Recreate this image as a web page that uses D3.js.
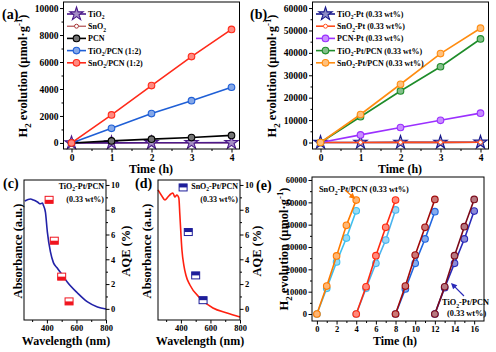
<!DOCTYPE html>
<html>
<head>
<meta charset="utf-8">
<script src="https://cdn.jsdelivr.net/npm/d3@7"></script>
<style>
  body { margin: 0; background: #fff; }
  svg { display: block; }
</style>
</head>
<body>
<svg width="496" height="352"></svg>
<script>
// ---------- data ----------
const timeH = [0, 1, 2, 3, 4];

// (a) H2 evolution, umol/g
const tio2A = [0, 5, 10, 15, 20];
const sno2A = [0, 3, 6, 8, 10];
const pcnA = [0, 150, 280, 400, 560];
const tio2PcnA = [0, 1080, 2180, 3130, 4130];
const sno2PcnA = [0, 2080, 4250, 6400, 8420];

// (b) H2 evolution with Pt, umol/g
const tio2PtB = [0, 20, 40, 60, 80];
const sno2PtB = [0, 30, 50, 70, 90];
const pcnPtB = [0, 3400, 6700, 9900, 13100];
const tio2PtPcnB = [0, 11500, 23000, 33800, 46200];
const sno2PtPcnB = [0, 12500, 26000, 39700, 51000];

// (c) absorbance (a.u.) of TiO2-Pt/PCN
const waveC = [250, 289, 309, 336, 356, 370, 376, 390, 403, 424, 444, 471, 505, 539, 607, 675, 742, 800];
const absC = [0.85, 0.864, 0.857, 0.843, 0.83, 0.836, 0.82, 0.77, 0.63, 0.486, 0.41, 0.37, 0.32, 0.27, 0.193, 0.129, 0.093, 0.079];

// (d) absorbance (a.u.) of SnO2-Pt/PCN
const waveD = [245, 271, 292, 312, 332, 346, 359, 373, 386, 393, 407, 420, 434, 461, 529, 617, 712, 800];
const absD = [0.929, 0.886, 0.857, 0.879, 0.9, 0.907, 0.879, 0.893, 0.871, 0.75, 0.5, 0.39, 0.32, 0.25, 0.157, 0.086, 0.05, 0.021];

// AQE (%) at monochromatic wavelengths
const aqeWave = [415, 450, 500, 550];
const aqeTiO2 = [8.8, 5.5, 2.6, 0.6];
const aqeSnO2 = [9.8, 6.2, 2.7, 0.7];

// (e) recycling, 4 runs of 4 h
const runStart = [0, 4, 8, 12];
const snRuns = [
  [0, 12500, 26000, 39700, 51000],
  [0, 12200, 26100, 38800, 51000],
  [0, 12500, 26400, 38800, 51300],
  [0, 12200, 26100, 39100, 51300]
];
const tiRuns = [
  [0, 11500, 23300, 34000, 46200],
  [0, 11500, 22700, 33100, 46600],
  [0, 11200, 22700, 33600, 45800],
  [0, 11800, 22700, 33600, 46100]
];

// ---------- helpers ----------
const FONT = "'Liberation Serif','Times New Roman',serif";
const svg = d3.select("svg")
  .attr("font-family", FONT)
  .attr("font-weight", "bold");

// text with _{sub} and ^{sup} parts
function rich(t, s, fs) {
  let off = 0, i = 0, m;
  const re = /([_^])\{([^}]*)\}/g;
  const add = (txt, target, size) => {
    t.append("tspan").attr("dy", target - off).attr("font-size", size).text(txt);
    off = target;
  };
  while ((m = re.exec(s))) {
    if (m.index > i) add(s.slice(i, m.index), 0, fs);
    add(m[2], m[1] === "_" ? fs * 0.3 : -fs * 0.4, fs * 0.7);
    i = re.lastIndex;
  }
  if (i < s.length) add(s.slice(i), 0, fs);
  return t;
}

function label(x, y, s, fs, opts) {
  opts = opts || {};
  const t = svg.append("text")
    .attr("transform", `translate(${x},${y})` + (opts.rot ? ` rotate(${opts.rot})` : ""))
    .attr("text-anchor", opts.anchor || "start")
    .attr("font-size", fs)
    .attr("fill", "#000");
  return rich(t, s, fs);
}

function frame(x, y) {
  const [x0, x1] = x.range(), [y0, y1] = y.range();
  svg.append("rect")
    .attr("x", x0).attr("y", y1)
    .attr("width", x1 - x0).attr("height", y0 - y1)
    .attr("fill", "none").attr("stroke", "#000").attr("stroke-width", 1);
}

function axis(fn, scale, pos, major, minor, fs) {
  const gm = svg.append("g").attr("transform", pos)
    .call(fn(scale).tickValues(minor).tickSize(2).tickFormat(""));
  gm.select(".domain").remove();
  const g = svg.append("g").attr("transform", pos)
    .call(fn(scale).tickValues(major).tickSize(3.5).tickPadding(1.5).tickFormat(d3.format("d")));
  g.select(".domain").remove();
  g.attr("font-family", FONT).attr("font-weight", "bold").attr("font-size", fs || 9.5);
  g.selectAll("text").attr("fill", "#000");
}

function light(c, k) {
  return d3.interpolateRgb(c, "#fff")(k == null ? 0.45 : k);
}

function marker(g, type, cx, cy, color) {
  if (type === "star") {
    g.append("path")
      .attr("d", d3.symbol(d3.symbolStar, 55)())
      .attr("transform", `translate(${cx},${cy})`)
      .attr("fill", light(color, 0.5)).attr("stroke", color).attr("stroke-width", 1.1);
  } else if (type === "small") {
    g.append("circle").attr("cx", cx).attr("cy", cy).attr("r", 2)
      .attr("fill", "#fff").attr("stroke", color).attr("stroke-width", 0.9);
  } else {
    g.append("circle").attr("cx", cx).attr("cy", cy).attr("r", 3.3)
      .attr("fill", light(color)).attr("stroke", color).attr("stroke-width", 1.1);
  }
}

function series(x, y, t, v, color, sym, lw) {
  const g = svg.append("g");
  const pts = t.map((d, i) => [x(d), y(v[i])]);
  g.append("path").attr("d", d3.line()(pts))
    .attr("fill", "none").attr("stroke", color).attr("stroke-width", lw || 1.6);
  pts.forEach(p => marker(g, sym, p[0], p[1], color));
}

function legend(x0, y0, items) {
  items.forEach((it, i) => {
    const y = y0 + i * 12.2;
    const g = svg.append("g");
    g.append("line").attr("x1", x0).attr("x2", x0 + 19).attr("y1", y).attr("y2", y)
      .attr("stroke", it.color).attr("stroke-width", it.lw || 1.6);
    marker(g, it.sym, x0 + 9.5, y, it.color);
    label(x0 + 21, y + 3, it.name, 8);
  });
}

// ---------- (a) ----------
const xa = d3.scaleLinear().domain([-0.2, 4.2]).range([63.5, 239.5]);
const ya = d3.scaleLinear().domain([-450, 10450]).range([149, 2]);
const seriesA = [
  { name: "SnO_{2}", v: sno2A, color: "#A0282A", sym: "small", lw: 1 },
  { name: "TiO_{2}", v: tio2A, color: "#4B1A8A", sym: "star" },
  { name: "PCN", v: pcnA, color: "#000000", sym: "circle" },
  { name: "TiO_{2}/PCN (1:2)", v: tio2PcnA, color: "#1F5FD6", sym: "circle" },
  { name: "SnO_{2}/PCN (1:2)", v: sno2PcnA, color: "#FF2A1A", sym: "circle" }
];
seriesA.forEach(s => series(xa, ya, timeH, s.v, s.color, s.sym, s.lw));
frame(xa, ya);
axis(d3.axisBottom, xa, "translate(0,149)", [0, 1, 2, 3, 4], [0.5, 1.5, 2.5, 3.5]);
axis(d3.axisLeft, ya, "translate(63.5,0)", d3.range(0, 10001, 2000), d3.range(1000, 10000, 2000));
legend(67, 14, [seriesA[1], seriesA[0], seriesA[2], seriesA[3], seriesA[4]]);
label(2, 19, "(a)", 14);
label(151, 173, "Time (h)", 12, { anchor: "middle" });
label(27, 76, "H_{2} evolution (μmol·g^{-1})", 12.5, { anchor: "middle", rot: -90 });

// ---------- (b) ----------
const xb = d3.scaleLinear().domain([-0.2, 4.2]).range([312.5, 488.5]);
const yb = d3.scaleLinear().domain([-2900, 62700]).range([149, 2]);
const seriesB = [
  { name: "TiO_{2}-Pt (0.33 wt%)", v: tio2PtB, color: "#1A1A8C", sym: "star" },
  { name: "SnO_{2}-Pt (0.33 wt%)", v: sno2PtB, color: "#FF4A1A", sym: "small" },
  { name: "PCN-Pt (0.33 wt%)", v: pcnPtB, color: "#9B30FF", sym: "circle" },
  { name: "TiO_{2}-Pt/PCN (0.33 wt%)", v: tio2PtPcnB, color: "#1E8C2A", sym: "circle" },
  { name: "SnO_{2}-Pt/PCN (0.33 wt%)", v: sno2PtPcnB, color: "#FF8C10", sym: "circle" }
];
seriesB.forEach(s => series(xb, yb, timeH, s.v, s.color, s.sym, s.lw));
frame(xb, yb);
axis(d3.axisBottom, xb, "translate(0,149)", [0, 1, 2, 3, 4], [0.5, 1.5, 2.5, 3.5]);
axis(d3.axisLeft, yb, "translate(312.5,0)", d3.range(0, 60001, 10000), d3.range(5000, 60000, 10000));
legend(316, 14, seriesB);
label(250, 19, "(b)", 14);
label(400, 173, "Time (h)", 12, { anchor: "middle" });
label(276, 76, "H_{2} evolution (μmol·g^{-1})", 12.5, { anchor: "middle", rot: -90 });

// ---------- (c) and (d) ----------
const absY = d3.scaleLinear().domain([0, 1]).range([320, 180]);
const aqeY = d3.scaleLinear().domain([-0.9, 10.4]).range([320, 180]);

function halfSquare(cx, cy, color, fillTop) {
  const w = 8, h = 7;
  svg.append("rect").attr("x", cx - w / 2).attr("y", cy - h / 2).attr("width", w).attr("height", h)
    .attr("fill", "#fff").attr("stroke", color).attr("stroke-width", 1);
  svg.append("rect").attr("x", cx - w / 2).attr("y", fillTop ? cy - h / 2 : cy).attr("width", w).attr("height", h / 2)
    .attr("fill", color);
}

function spectrum(x, wave, absv, color, aqe, mColor, fillTop, xr) {
  svg.append("path")
    .attr("d", d3.line().x((d, i) => x(wave[i])).y(d => absY(d)).curve(d3.curveMonotoneX)(absv))
    .attr("fill", "none").attr("stroke", color).attr("stroke-width", 1.6);
  aqeWave.forEach((w, i) => halfSquare(x(w), aqeY(aqe[i]), mColor, fillTop));
  frame(x, absY);
  axis(d3.axisBottom, x, "translate(0,320)", [400, 600, 800], [300, 500, 700], 8.5);
  axis(d3.axisRight, aqeY, `translate(${xr},0)`, [0, 2, 4, 6, 8, 10], [1, 3, 5, 7, 9], 8.5);
}

const xc = d3.scaleLinear().domain([245, 800]).range([24, 106]);
spectrum(xc, waveC, absC, "#2222A8", aqeTiO2, "#F0141E", false, 106);
label(104, 189, "TiO_{2}-Pt/PCN", 8, { anchor: "end" });
label(104, 202, "(0.33 wt%)", 8, { anchor: "end" });
label(3, 188, "(c)", 14);
label(66, 345, "Wavelength (nm)", 12, { anchor: "middle" });
label(22, 251, "Absorbance (a.u.)", 12.5, { anchor: "middle", rot: -90 });
label(130, 251, "AQE (%)", 12.5, { anchor: "middle", rot: -90 });

const xd = d3.scaleLinear().domain([245, 800]).range([158, 240]);
spectrum(xd, waveD, absD, "#FF2010", aqeSnO2, "#1E1E9A", true, 240);
label(238, 189, "SnO_{2}-Pt/PCN", 8, { anchor: "end" });
label(238, 202, "(0.33 wt%)", 8, { anchor: "end" });
label(135, 188, "(d)", 14);
label(200, 345, "Wavelength (nm)", 12, { anchor: "middle" });
label(151, 251, "Absorbance (a.u.)", 12.5, { anchor: "middle", rot: -90 });
label(261, 251, "AQE (%)", 12.5, { anchor: "middle", rot: -90 });

// ---------- (e) ----------
const xe = d3.scaleLinear().domain([-0.5, 17]).range([312, 484]);
const ye = d3.scaleLinear().domain([-3130, 61340]).range([321, 177]);
const snColors = ["#FF7A00", "#FF2A10", "#A00A0A", "#7A0A1A"];
const tiColors = ["#3EC0F0", "#4AB4EE", "#1F66E0", "#2A2AB8"];
runStart.forEach((t0, k) => {
  const t = timeH.map(d => d + t0);
  series(xe, ye, t, tiRuns[k], tiColors[k], "circle");
  series(xe, ye, t, snRuns[k], snColors[k], "circle");
});
frame(xe, ye);
axis(d3.axisBottom, xe, "translate(0,321)", d3.range(0, 17, 2), d3.range(1, 17, 2), 8.5);
axis(d3.axisLeft, ye, "translate(312,0)", d3.range(0, 60001, 10000), d3.range(5000, 60000, 10000), 8.5);

function arrow(x1, y1, x2, y2, color) {
  const a = Math.atan2(y2 - y1, x2 - x1), L = 6, W = 3;
  svg.append("line").attr("x1", x1).attr("y1", y1)
    .attr("x2", x2 - Math.cos(a) * L * 0.8).attr("y2", y2 - Math.sin(a) * L * 0.8)
    .attr("stroke", color).attr("stroke-width", 1.2);
  const bx = x2 - Math.cos(a) * L, by = y2 - Math.sin(a) * L;
  svg.append("path")
    .attr("d", `M${x2},${y2}L${bx - Math.sin(a) * W},${by + Math.cos(a) * W}L${bx + Math.sin(a) * W},${by - Math.cos(a) * W}Z`)
    .attr("fill", color);
}
label(319, 192, "SnO_{2}-Pt/PCN (0.33 wt%)", 8.3);
arrow(xe(2.86), ye(55500), xe(3.9), ye(51500), "#FF7A00");
label(442, 305, "TiO_{2}-Pt/PCN", 8.3);
label(447, 316, "(0.33 wt%)", 8.3);
arrow(xe(14.96), ye(8060), xe(13.64), ye(13880), "#2A2AB8");
label(256, 190, "(e)", 14);
label(395, 345, "Time (h)", 12, { anchor: "middle" });
label(288, 249, "H_{2} evolution (μmol·g^{-1})", 12.5, { anchor: "middle", rot: -90 });
</script>
</body>
</html>
